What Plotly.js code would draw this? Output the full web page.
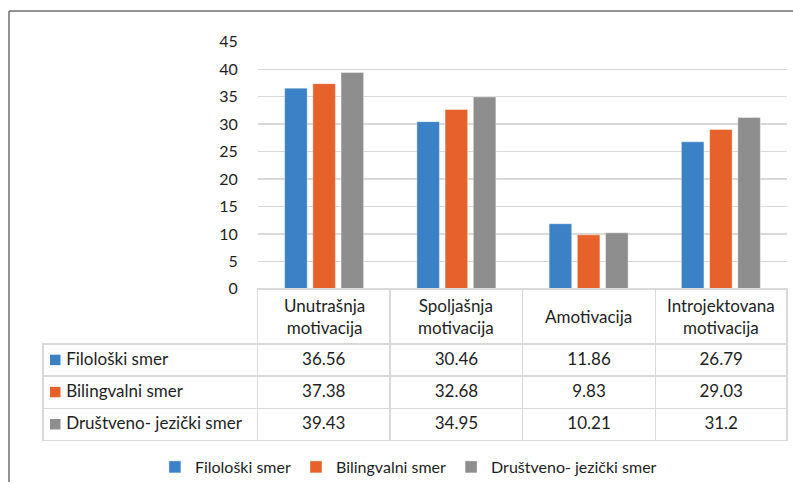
<!DOCTYPE html>
<html>
<head>
<meta charset="utf-8">
<script src="https://cdn.plot.ly/plotly-3.0.1.min.js"></script>
<style>html,body{margin:0;padding:0;background:#fff;}#chart{width:793px;height:484px;}</style>
</head>
<body>
<div id="chart"></div>
<script>
var categories = ["Unutrašnja motivacija", "Spoljašnja motivacija", "Amotivacija", "Introjektovana motivacija"];
var headerLabels = ["Unutrašnja<br>motivacija", "Spoljašnja<br>motivacija", "Amotivacija", "Introjektovana<br>motivacija"];
var seriesNames = ["Filološki smer", "Bilingvalni smer", "Društveno- jezički smer"];
var filoloski = [36.56, 30.46, 11.86, 26.79];
var bilingvalni = [37.38, 32.68, 9.83, 29.03];
var drustveno = [39.43, 34.95, 10.21, 31.2];
var tableText = [["36.56", "30.46", "11.86", "26.79"], ["37.38", "32.68", "9.83", "29.03"], ["39.43", "34.95", "10.21", "31.2"]];
var yTicks = [0, 5, 10, 15, 20, 25, 30, 35, 40, 45];

var colors = ["#3A81C6", "#E7612A", "#8E8E8E"];
var seriesValues = [filoloski, bilingvalni, drustveno];
var W = 793, H = 484;
var textColor = "#1E1E1E";
var font = "Lato, 'Open Sans', sans-serif";
var gridCol = "#D9D9D9";

var traces = seriesValues.map(function (vals, i) {
  return {
    type: "bar", x: categories, y: vals, name: seriesNames[i],
    marker: {color: colors[i], line: {color: "rgba(255,255,255,0.5)", width: 0.8}},
    hoverinfo: "y"
  };
});

// geometry of the data table (pixels)
var tblTop = 290, headerH = 55, rowH = 32.3;
var tblLeft = 43, tblRight = 787;

var pad = "\u00a0\u00a0\u00a0\u2009";
var cellValues = [seriesNames.map(function (n) { return pad + n; })];
for (var c = 0; c < categories.length; c++) {
  cellValues.push(tableText.map(function (r) { return r[c]; }));
}
traces.push({
  type: "table",
  domain: {x: [tblLeft / W, tblRight / W], y: [0, 1 - tblTop / H]},
  columnwidth: [215, 133, 133, 133, 132],
  header: {
    values: ["", "", "", "", ""],
    height: headerH,
    line: {color: ["rgba(255,255,255,0)", gridCol, gridCol, gridCol, gridCol], width: 1.5},
    fill: {color: "rgba(255,255,255,0)"}
  },
  cells: {
    values: cellValues,
    height: rowH,
    align: ["left", "center", "center", "center", "center"],
    font: {family: font, size: 17, color: textColor},
    line: {color: gridCol, width: 1.5},
    fill: {color: "rgba(255,255,255,0)"}
  }
});

// header labels placed on the category axis positions
var annotations = categories.map(function (cat, i) {
  return {
    xref: "x", yref: "paper", x: cat, y: 1 - (tblTop + headerH / 2) / H,
    text: headerLabels[i], showarrow: false, xanchor: "center", yanchor: "middle",
    align: "center", font: {family: font, size: 17, color: textColor}
  };
});

// colour keys in row labels
var shapes = seriesNames.map(function (n, i) {
  var cy = tblTop + headerH + rowH * (i + 0.5);
  return {
    type: "rect", xref: "paper", yref: "paper",
    x0: 50 / W, x1: 60.5 / W, y0: 1 - (cy + 5.5) / H, y1: 1 - (cy - 5) / H,
    fillcolor: colors[i], line: {width: 0}
  };
});
shapes.push(
  {type: "line", xref: "paper", yref: "paper", x0: 9 / W, x1: 1, y0: 1 - 11 / H, y1: 1 - 11 / H, line: {color: "#6E6E6E", width: 1.5}},
  {type: "line", xref: "paper", yref: "paper", x0: 9 / W, x1: 9 / W, y0: 0, y1: 1 - 11 / H, line: {color: "#6E6E6E", width: 1.5}}
);

var layout = {
  width: W, height: H,
  margin: {l: 0, r: 0, t: 0, b: 0},
  paper_bgcolor: "#fff", plot_bgcolor: "#fff",
  font: {family: font, size: 16, color: textColor},
  barmode: "group",
  bargap: 0.36,
  bargroupgap: 0.2,
  showlegend: true,
  legend: {
    orientation: "h", x: 0.515, xanchor: "center", y: 1 - 469 / H, yanchor: "middle",
    font: {family: font, size: 16, color: textColor},
    itemwidth: 30, traceorder: "normal"
  },
  xaxis: {
    domain: [258 / W, 787 / W],
    showticklabels: false, showgrid: false, zeroline: false,
    showline: false, fixedrange: true
  },
  yaxis: {
    domain: [1 - 290 / H, 1 - 42 / H],
    range: [0, 45],
    tickvals: yTicks,
    ticktext: yTicks.map(String),
    showgrid: true, gridcolor: gridCol, gridwidth: 1.5,
    zeroline: true, zerolinecolor: gridCol, zerolinewidth: 1.5,
    ticks: "outside", ticklen: 16, tickcolor: "rgba(0,0,0,0)",
    tickfont: {family: font, size: 16, color: textColor},
    showline: false, fixedrange: true
  },
  annotations: annotations,
  shapes: shapes
};

Plotly.newPlot("chart", traces, layout, {displayModeBar: false, staticPlot: true});
</script>
</body>
</html>
